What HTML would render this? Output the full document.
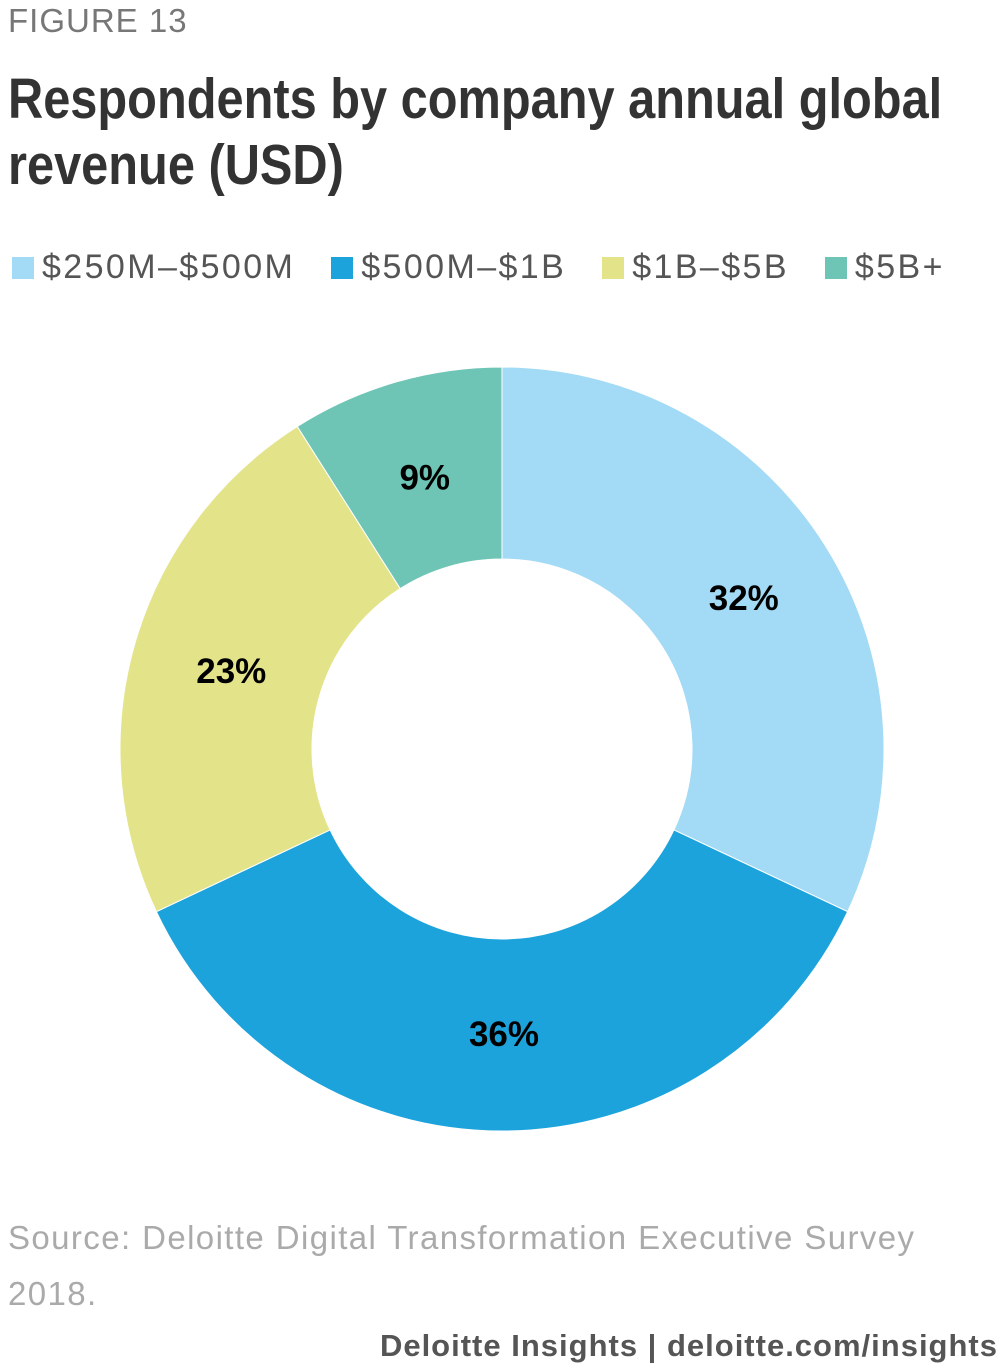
<!DOCTYPE html>
<html><head><meta charset="utf-8"><style>
body{margin:0;width:1000px;height:1370px;background:#fff;font-family:"Liberation Sans",sans-serif;position:relative;overflow:hidden}
.abs{position:absolute;margin:0}
</style></head><body>
<div class="abs" style="left:8px;top:2px;font-size:33px;color:#777;letter-spacing:1px">FIGURE 13</div>
<div class="abs" style="left:8px;top:66px;font-weight:bold;font-size:57px;line-height:66px;color:#333;white-space:nowrap;transform:scaleX(0.855);transform-origin:left top">Respondents by company annual global<br>revenue (USD)</div>
<div class="abs" style="left:12px;top:248px;font-size:34px;letter-spacing:2.4px;color:#555;display:flex;align-items:center;white-space:nowrap">
<span style="display:flex;align-items:center;margin-right:36px"><i style="display:inline-block;width:22px;height:22px;background:#a3daf5;margin-right:8px"></i>$250M–$500M</span>
<span style="display:flex;align-items:center;margin-right:36px"><i style="display:inline-block;width:22px;height:22px;background:#1ca3dc;margin-right:8px"></i>$500M–$1B</span>
<span style="display:flex;align-items:center;margin-right:36px"><i style="display:inline-block;width:22px;height:22px;background:#e3e48a;margin-right:8px"></i>$1B–$5B</span>
<span style="display:flex;align-items:center"><i style="display:inline-block;width:22px;height:22px;background:#6fc5b5;margin-right:8px"></i>$5B+</span>
</div>
<svg id="chart" class="abs" style="left:0;top:0" width="1000" height="1370"></svg>
<div class="abs" style="left:8px;top:1210px;font-size:33px;letter-spacing:1.4px;line-height:56px;color:#aaa;white-space:nowrap">Source: Deloitte Digital Transformation Executive Survey<br>2018.</div>
<div class="abs" style="right:2px;top:1328px;font-size:31px;letter-spacing:1px;font-weight:bold;color:#555;white-space:nowrap">Deloitte Insights | deloitte.com/insights</div>
<script>
const categories=["$250M–$500M","$500M–$1B","$1B–$5B","$5B+"];
const values=[32,36,23,9];
const labels=["32%","36%","23%","9%"];
const colors=["#a3daf5","#1ca3dc","#e3e48a","#6fc5b5"];
const svg=document.getElementById('chart');
const NS="http://www.w3.org/2000/svg";
const cx=502,cy=749,R=382,r=190;
const total=values.reduce((a,b)=>a+b,0);
function pt(rad,a){return [cx+rad*Math.sin(a),cy-rad*Math.cos(a)];}
let acc=0;
values.forEach((v,i)=>{
  const a0=acc/total*2*Math.PI,a1=(acc+v)/total*2*Math.PI;acc+=v;
  const lg=(a1-a0)>Math.PI?1:0;
  const [x0,y0]=pt(R,a0),[x1,y1]=pt(R,a1),[x2,y2]=pt(r,a1),[x3,y3]=pt(r,a0);
  const p=document.createElementNS(NS,'path');
  p.setAttribute('d',`M${x0},${y0}A${R},${R} 0 ${lg} 1 ${x1},${y1}L${x2},${y2}A${r},${r} 0 ${lg} 0 ${x3},${y3}Z`);
  p.setAttribute('fill',colors[i]);p.setAttribute('stroke','#fff');p.setAttribute('stroke-width','1');
  
  
  svg.appendChild(p);
  const m=(a0+a1)/2;const [lx,ly]=pt(284,m);
  const t=document.createElementNS(NS,'text');
  t.setAttribute('x',lx+2);t.setAttribute('y',ly+13);t.setAttribute('text-anchor','middle');
  t.setAttribute('font-size','35');t.setAttribute('font-weight','bold');t.setAttribute('fill','#000');
  t.setAttribute('font-family','Liberation Sans, sans-serif');
  t.textContent=labels[i];
  
  
  svg.appendChild(t);
});
</script>
</body></html>
